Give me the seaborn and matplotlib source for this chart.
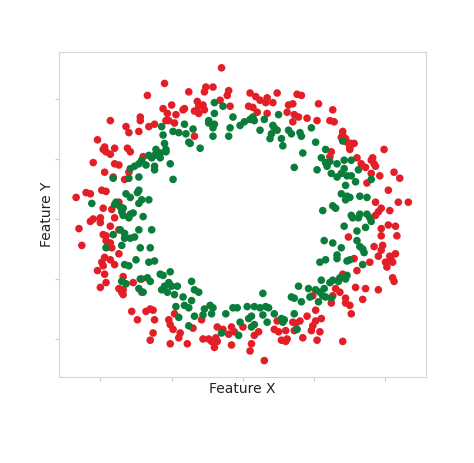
import numpy as np
import pandas as pd
import matplotlib
matplotlib.use("Agg")
import matplotlib.pyplot as plt
import seaborn as sns

# outer ring (red)
red_x = [-0.55, -0.67, -0.93, -0.72, -0.72, -0.82, -0.80, -0.73, -0.66, -0.62,
         -0.56, -0.50, -0.53, -0.47, -0.54, -0.52, -0.48, -0.42, -1.02, -0.97,
         -0.98, -0.96, -0.90, -0.93, -0.81, -0.79, -0.70, -1.05, -0.90, -0.87,
         -0.97, -0.91, -0.80, -0.83, -0.38, -0.26, -0.21, -0.27, -0.10, -0.11,
         -0.16, -0.32, -0.31, -0.28, -0.34, -0.31, -0.27, -0.41, -0.09, 0.05,
         0.09, 0.12, 0.17, 0.16, 0.24, 0.21, 0.04, 0.07, 0.10, 0.17,
         0.38, 0.41, 0.32, 0.35, 0.31, 0.36, 0.39, 0.35, -0.34, -0.15,
         0.53, 0.63, 0.45, 0.52, 0.61, 0.64, 0.70, 0.70, 0.72, 0.69,
         0.73, 0.76, 0.78, 0.75, 0.75, 0.62, 0.61, 0.80, 0.91, 0.90,
         0.92, 0.93, 0.83, 0.86, 0.99, 1.06, 1.10, 0.90, 0.96,
         -1.17, -1.10, -1.07, -0.99, -0.96, -0.98, -0.92, -0.87, -1.05, -1.07,
         -1.00, -1.00, -0.90, -0.93, -1.15, -0.87, -0.98, -0.96, -0.96, -0.93,
         -0.95, -0.92, -1.13, -0.87, -0.97, -0.99, -0.98, -0.93, -0.90,
         0.87, 1.02, 0.93, 1.09, 1.16, 0.97, 0.95, 0.93, 1.03, 0.97,
         0.97, 1.02, 1.07, 1.08, 0.74, 0.92, 0.98, 0.97, 1.07, 1.03,
         0.95, 0.78, 0.89, 1.00, 1.01, 1.04, 1.05, 1.05, 1.06,
         -1.02, -0.97, -0.96, -1.00, -0.84, -0.87, -0.85, -0.84, -0.84, -0.77,
         -0.71, -0.71, -0.78, -0.74, -0.68, -0.65, -0.63, -0.62, -0.63, -0.65,
         -0.52, -0.51, -0.49, -0.48, -0.44, -0.45, -0.51,
         -0.29, -0.35, -0.39, -0.28, -0.24, -0.22, -0.19, -0.18, -0.20, -0.18,
         -0.14, -0.10, -0.08, -0.06, -0.08, 0.00, 0.06, 0.05, 0.08, 0.11,
         0.15, 0.24, 0.22, 0.25, 0.27, 0.30, 0.31, 0.30, 0.35, 0.37,
         0.40, 0.36, 0.42,
         0.70, 0.80, 0.49, 0.63, 0.65, 0.68, 0.62, 0.72, 0.72, 0.75,
         0.79, 0.86, 0.95, 0.84, 0.76, 0.51, 0.45, 0.51, 0.55, 0.49,
         0.48, 0.54, 0.52, 0.70]
red_y = [1.13, 1.03, 0.82, 0.85, 0.82, 0.77, 0.72, 0.73, 0.77, 0.79,
         0.92, 0.95, 0.88, 0.87, 0.82, 0.82, 0.80, 0.91, 0.66, 0.60,
         0.58, 0.56, 0.59, 0.54, 0.59, 0.56, 0.52, 0.47, 0.46, 0.45,
         0.39, 0.35, 0.39, 0.33, 1.06, 1.10, 1.10, 1.06, 1.07, 1.03,
         0.99, 0.98, 0.94, 0.95, 0.90, 0.88, 0.91, 0.92, 0.94, 1.05,
         1.02, 0.99, 1.01, 0.97, 1.05, 0.97, 0.94, 0.93, 0.89, 0.88,
         1.04, 1.03, 0.95, 0.96, 0.89, 0.87, 0.85, 0.81, 0.69, 1.26,
         0.96, 0.91, 0.84, 0.82, 0.82, 0.81, 0.73, 0.70, 0.67, 0.68,
         0.64, 0.63, 0.63, 0.60, 0.58, 0.56, 0.52, 0.51, 0.51, 0.49,
         0.46, 0.44, 0.46, 0.43, 0.58, 0.39, 0.34, 0.38, 0.36,
         0.18, 0.22, 0.21, 0.24, 0.23, 0.09, 0.08, 0.14, 0.00, -0.02,
         0.01, -0.03, 0.01, -0.06, -0.08, -0.09, -0.13, -0.14, -0.18, -0.20,
         -0.23, -0.24, -0.22, -0.29, -0.32, -0.36, -0.39, -0.34, -0.38,
         0.30, 0.24, 0.14, 0.14, 0.14, 0.09, 0.06, 0.03, 0.07, -0.08,
         -0.14, -0.05, -0.06, -0.14, -0.15, -0.23, -0.22, -0.26, -0.29, -0.31,
         -0.31, -0.33, -0.36, -0.36, -0.40, -0.34, -0.36, -0.49, -0.52,
         -0.43, -0.46, -0.53, -0.57, -0.48, -0.58, -0.61, -0.59, -0.63, -0.53,
         -0.50, -0.61, -0.77, -0.84, -0.77, -0.75, -0.76, -0.84, -0.95, -1.01,
         -0.84, -0.88, -0.92, -0.79, -0.95, -0.99, -1.04,
         -0.84, -0.91, -1.04, -1.00, -1.00, -1.02, -0.99, -1.02, -1.07, -0.90,
         -0.92, -0.96, -0.90, -0.94, -1.05, -0.90, -1.04, -1.10, -0.97, -0.94,
         -1.18, -0.85, -0.92, -0.94, -1.01, -1.02, -1.00, -0.93, -0.86, -0.87,
         -0.85, -0.93, -0.99,
         -0.46, -0.43, -0.64, -0.64, -0.58, -0.61, -0.70, -0.66, -0.70, -0.72,
         -0.57, -0.58, -0.59, -0.67, -0.79, -0.76, -0.81, -0.85, -0.83, -0.89,
         -0.93, -0.94, -1.01, -1.02]

# inner ring (green)
green_x = [-0.57, -0.56, -0.49, -0.45, -0.41, -0.55, -0.54, -0.61, -0.58, -0.54,
           -0.66, -0.64, -0.62, -0.58, -0.71, -0.73, -0.76, -0.79, -0.68, -0.62,
           -0.62, -0.51, -0.73, -0.91, -0.80, -0.49,
           -0.20, -0.14, -0.20, -0.24, -0.24, -0.20, -0.07, -0.35, -0.40, -0.38,
           -0.37, -0.21, -0.21, -0.09, -0.10, -0.02, 0.01, 0.05, 0.07, 0.08,
           0.15, 0.25, 0.12, 0.21, 0.22, 0.24, 0.20, 0.19, 0.27, 0.28,
           0.32, 0.34, 0.40, 0.41, -0.30, 0.42, 0.36,
           0.48, 0.51, 0.58, 0.70, 0.55, 0.58, 0.59, 0.61, 0.66, 0.71,
           0.76, 0.52, 0.62, 0.66, 0.69, 0.71, 0.73, 0.76, 0.81,
           -0.73, -0.74, -0.82, -0.79, -0.89, -0.90, -0.86, -0.84, -0.85, -1.06,
           -0.71, -0.73, -0.66, -0.84, -0.80, -0.79, -0.77, -0.86, -0.91, -0.83,
           -0.70, -0.73, -0.64, -0.83, -0.79, -0.76, -0.85, -0.96, -0.72, -0.65,
           -0.75, -0.83, -0.80, -0.66, -0.62,
           0.79, 0.72, 0.90, 0.69, 0.73, 0.75, 0.72, 0.82, 0.87, 0.56,
           0.63, 0.65, 0.76, 0.77, 0.82, 0.81, 0.87, 0.89, 0.90, 0.71,
           0.86, 0.80, 0.57, 0.63, 0.80, 0.82, 0.69, 0.84, 0.85, 0.66,
           0.66, 0.58, 0.54, 0.73, 0.75, 0.84,
           -0.85, -0.82, -0.72, -0.67, -0.65, -0.73, -0.70, -0.58, -0.56, -0.51,
           -0.52, -0.55, -0.50, -0.46, -0.57, -0.53, -0.48, -0.47, -0.45, -0.42,
           -0.36, -0.34, -0.31, -0.36, -0.41, -0.38, -0.34, -0.38, -0.27, -0.23,
           -0.21, -0.28, -0.22, -0.12, -0.07, -0.04, 0.03, 0.08, 0.12, 0.16,
           0.18, 0.14, 0.14, 0.04, 0.06, -0.02, 0.17, 0.06, 0.08, 0.22,
           0.27, 0.29, 0.28, 0.34, 0.36, 0.39, 0.41, 0.36, 0.38, -0.15,
           -0.03,
           0.46, 0.55, 0.51, 0.54, 0.57, 0.56, 0.58, 0.47, 0.53, 0.61,
           0.63, 0.67, 0.68, 0.72, 0.73, 0.62]
green_y = [0.77, 0.70, 0.73, 0.72, 0.79, 0.63, 0.58, 0.58, 0.55, 0.56,
           0.53, 0.51, 0.53, 0.51, 0.49, 0.46, 0.44, 0.42, 0.45, 0.44,
           0.41, 0.46, 0.35, 0.34, 0.34, 0.33,
           0.97, 0.94, 0.88, 0.82, 0.80, 0.79, 0.85, 0.75, 0.71, 0.64,
           0.63, 0.76, 0.69, 0.76, 0.69, 0.78, 0.81, 0.83, 0.85, 0.82,
           0.83, 0.87, 0.74, 0.78, 0.76, 0.74, 0.71, 0.67, 0.67, 0.61,
           0.74, 0.71, 0.72, 0.69, 0.59, 0.55, 0.43,
           0.76, 0.64, 0.58, 0.65, 0.51, 0.47, 0.44, 0.48, 0.46, 0.49,
           0.49, 0.41, 0.38, 0.35, 0.38, 0.42, 0.36, 0.36, 0.41,
           0.24, 0.22, 0.21, 0.18, 0.14, 0.12, 0.10, 0.09, 0.06, 0.13,
           0.16, 0.13, 0.16, 0.03, 0.01, 0.04, 0.05, -0.09, -0.13, -0.12,
           0.02, -0.09, -0.09, -0.16, -0.16, -0.15, -0.22, -0.24, -0.24, -0.24,
           -0.34, -0.38, -0.39, -0.36, -0.35,
           0.31, 0.28, 0.33, 0.21, 0.19, 0.18, 0.16, 0.19, 0.18, 0.07,
           0.11, 0.09, 0.03, 0.01, 0.04, 0.01, 0.04, 0.01, -0.02, -0.06,
           -0.07, -0.10, -0.18, -0.20, -0.18, -0.23, -0.24, -0.25, -0.28, -0.30,
           -0.33, -0.34, -0.36, -0.35, -0.34, -0.38,
           -0.52, -0.54, -0.50, -0.49, -0.52, -0.58, -0.61, -0.46, -0.47, -0.44,
           -0.53, -0.56, -0.56, -0.56, -0.59, -0.61, -0.63, -0.73, -0.82, -0.65,
           -0.52, -0.59, -0.61, -0.68, -0.72, -0.74, -0.81, -0.89, -0.75, -0.72,
           -0.74, -0.80, -0.79, -0.79, -0.74, -0.74, -0.73, -0.73, -0.74, -0.73,
           -0.74, -0.62, -0.80, -0.83, -0.81, -0.86, -0.86, -0.90, -0.88, -0.79,
           -0.83, -0.84, -0.86, -0.65, -0.66, -0.56, -0.69, -0.79, -0.92, -0.95,
           -0.97,
           -0.58, -0.51, -0.59, -0.61, -0.58, -0.64, -0.65, -0.65, -0.69, -0.53,
           -0.51, -0.52, -0.49, -0.50, -0.47, -0.66]

df = pd.DataFrame({
    "x": red_x + green_x,
    "y": red_y + green_y,
    "ring": ["outer"] * len(red_x) + ["inner"] * len(green_x),
})

sns.set_style("white")
plt.rcParams["font.family"] = ["DejaVu Sans"]

fig = plt.figure(figsize=(4.74, 4.63), dpi=100)
ax = fig.add_axes([0.1245, 0.1857, 0.7742, 0.702])

sns.scatterplot(data=df, x="x", y="y", hue="ring",
                palette={"outer": "#e41e26", "inner": "#0a7d3b"},
                s=30, linewidth=0, legend=False, ax=ax)

ax.set_xlim(-1.29, 1.284)
ax.set_ylim(-1.317, 1.392)
ticks = [-1, -0.5, 0, 0.5, 1]
ax.set_xticks(ticks)
ax.set_yticks(ticks)
ax.set_xticklabels([])
ax.set_yticklabels([])
ax.tick_params(length=3, width=0.8, color="#cccccc", direction="out",
               bottom=True, left=True)
for sp in ax.spines.values():
    sp.set_color("#d6d6d6")
    sp.set_linewidth(0.8)

ax.set_xlabel("Feature X", fontsize=10, color="#222222", labelpad=-3)
ax.set_ylabel("Feature Y", fontsize=10, color="#222222", labelpad=-3)

fig.savefig("out.png", dpi=100)
